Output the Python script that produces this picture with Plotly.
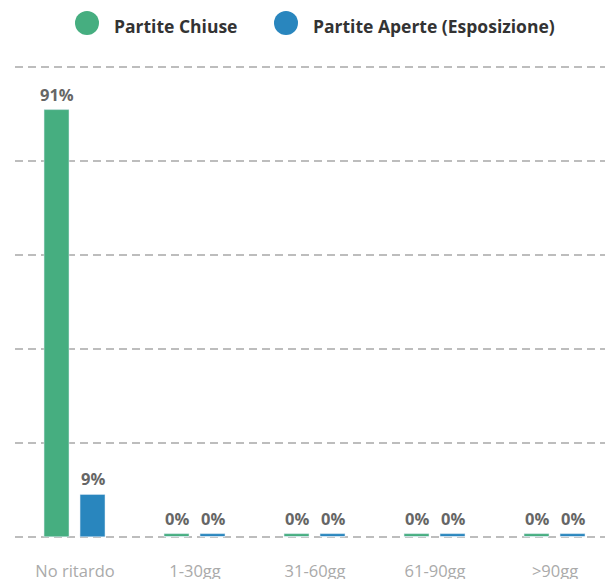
import plotly.graph_objects as go

# Categories and values (percent)
categories = ["No ritardo", "1-30gg", "31-60gg", "61-90gg", ">90gg"]
chiuse = [91, 0, 0, 0, 0]
aperte = [9, 0, 0, 0, 0]

series_names = ["Partite Chiuse", "Partite Aperte (Esposizione)"]
green = "#46AE80"
blue = "#2986BE"
colors = [green, blue]

fig = go.Figure()

# stub traces give zero bars a thin visible height (like the original chart)
stub_h = 0.64
series = [(chiuse, green, -0.258, -18.5), (aperte, blue, 0.042, 17.5)]
for vals, col, off, shift in series:
    fig.add_trace(go.Bar(
        x=categories, y=[stub_h] * len(categories),
        marker_color=col, width=0.208, offset=off,
        showlegend=False, hoverinfo="skip",
    ))
    fig.add_trace(go.Bar(
        x=categories, y=vals,
        marker_color=col, width=0.208, offset=off,
        showlegend=False,
    ))
    # value labels above each bar
    for cat, v in zip(categories, vals):
        fig.add_annotation(
            x=cat, y=max(v, stub_h), text=f"{v}%", showarrow=False,
            xshift=shift, yshift=2, yanchor="bottom",
            font=dict(family="Open Sans", size=16.5, color="#666666", weight="bold"),
        )

fig.update_layout(
    width=605, height=579,
    barmode="overlay",
    plot_bgcolor="white", paper_bgcolor="white",
    margin=dict(l=15, r=0, t=65, b=40),
    xaxis=dict(
        range=[-0.5, 4.4167], showgrid=False, zeroline=False, showline=False,
        automargin=False,
        ticks="outside", ticklen=17, tickcolor="rgba(0,0,0,0)",
        tickfont=dict(family="Open Sans", size=16.5, color="#aaaaaa"),
    ),
    yaxis=dict(
        range=[-0.5, 100.5], tickvals=[0, 20, 40, 60, 80, 100],
        showticklabels=False, zeroline=False, automargin=False,
        showgrid=True, gridcolor="#bdbdbd", gridwidth=2, griddash="8px,5px",
    ),
    font=dict(family="Open Sans"),
    showlegend=False,
)

# legend drawn as circles + labels at the top
legend_x = [87, 286]
for name, col, lx in zip(series_names, colors, legend_x):
    fig.add_shape(type="circle", xref="paper", yref="paper",
                  x0=(lx - 12 - 15) / 590, x1=(lx + 12 - 15) / 590,
                  y0=1 + (65 - 35) / 474, y1=1 + (65 - 11) / 474,
                  fillcolor=col, line_width=0)
    fig.add_annotation(text=name, xref="paper", yref="paper",
                       x=(lx + 25 - 15) / 590, y=1 + (65 - 26) / 474,
                       xanchor="left", yanchor="middle", showarrow=False,
                       font=dict(family="Open Sans", size=17.5, color="#333333", weight="bold"))

fig.write_html("out.html", config={"displayModeBar": False},
               post_script="document.body.style.margin='0';")
